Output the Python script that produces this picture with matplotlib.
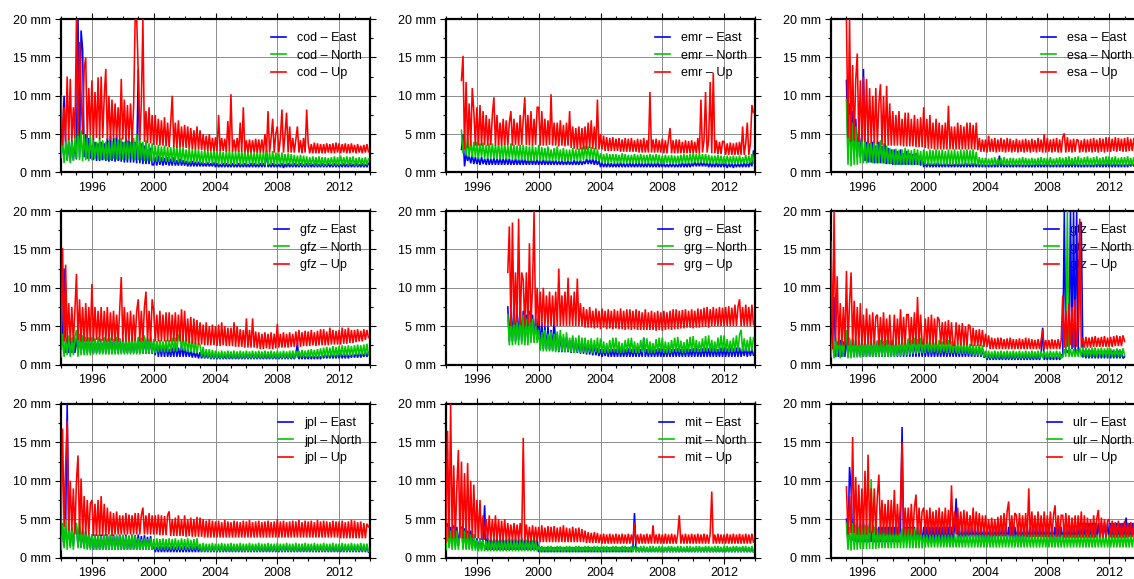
import numpy as np
import matplotlib
matplotlib.use('Agg')
import matplotlib.pyplot as plt
from matplotlib.lines import Line2D
from matplotlib.ticker import MultipleLocator, FuncFormatter

plt.rcParams['font.family'] = ['Liberation Sans', 'DejaVu Sans']

CENTERS = ['cod', 'emr', 'esa', 'gfz', 'grg', 'gtz', 'jpl', 'mit', 'ulr']
COMPONENTS = ['East', 'North', 'Up']
COLORS = ['#0000ff', '#00c800', '#ff0000']
STEP = 0.1  # sampling step in years (one row below = one year)
START = {'cod': 1994.0, 'emr': 1995.0, 'esa': 1995.0, 'gfz': 1994.0, 'grg': 1998.0,
         'gtz': 1994.0, 'jpl': 1994.0, 'mit': 1994.0, 'ulr': 1995.0}
X_TICKS = [1996, 2000, 2004, 2008, 2012]

# ---------------- cod ----------------
cod_east = [
    1.8, 4.0, 10.0, 3.8, 1.6, 4.0, 1.5, 4.2, 1.6, 3.8,
    1.7, 20.0, 2.0, 18.5, 16.0, 2.0, 5.0, 1.8, 4.5, 1.8,
    3.5, 1.6, 4.0, 1.5, 3.8, 1.5, 4.0, 1.6, 3.8, 1.5,
    4.5, 1.4, 4.8, 1.5, 4.5, 1.4, 4.8, 1.5, 4.2, 1.4,
    4.0, 1.3, 4.5, 1.3, 4.2, 1.3, 4.5, 1.3, 4.0, 1.2,
    13.5, 1.2, 3.8, 1.1, 3.5, 1.1, 3.0, 1.1, 3.2, 1.0,
    1.0, 2.0, 0.9, 2.2, 1.0, 2.0, 0.9, 1.9, 1.0, 2.0,
    0.9, 1.8, 0.9, 2.0, 0.9, 1.6, 0.9, 1.8, 0.9, 1.6,
    0.9, 1.5, 0.8, 1.4, 0.8, 1.5, 0.8, 1.4, 0.8, 1.4,
    0.8, 1.3, 0.8, 1.2, 0.8, 1.3, 0.8, 1.2, 0.8, 1.3,
    0.7, 1.2, 0.7, 1.1, 0.7, 1.2, 0.7, 1.2, 0.7, 1.1,
    0.7, 1.2, 0.7, 1.1, 0.7, 1.2, 0.7, 1.1, 0.7, 1.2,
    0.7, 1.1, 0.7, 1.2, 0.7, 1.2, 0.7, 1.1, 0.7, 1.2,
    0.7, 1.2, 0.7, 2.8, 0.7, 1.1, 0.7, 1.2, 0.7, 1.1,
    0.7, 1.1, 0.7, 1.2, 0.6, 1.1, 0.7, 1.2, 0.7, 1.1,
    0.7, 1.2, 0.7, 1.1, 0.7, 1.2, 0.7, 1.1, 0.7, 1.2,
    0.7, 1.2, 0.7, 1.1, 0.7, 1.2, 0.7, 1.1, 0.7, 1.2,
    0.7, 1.1, 0.7, 1.2, 0.7, 1.1, 0.7, 1.2, 0.7, 1.1,
    0.7, 1.1, 0.7, 1.2, 0.7, 1.1, 0.7, 1.2, 0.7, 1.1,
    0.7, 1.2, 0.7, 1.1, 0.7, 1.2, 0.7, 1.1, 0.7, 1.2,
]
cod_north = [
    2.0, 4.5, 1.2, 4.0, 1.5, 4.8, 1.2, 4.2, 1.5, 4.5,
    1.8, 6.5, 1.6, 5.5, 1.5, 5.0, 1.6, 4.5, 1.5, 4.8,
    1.6, 4.3, 1.8, 4.0, 1.7, 4.5, 1.6, 4.2, 1.7, 4.0,
    1.6, 4.2, 1.6, 4.0, 1.8, 4.5, 1.7, 4.3, 1.6, 4.5,
    1.7, 4.0, 1.6, 4.2, 1.8, 4.0, 1.7, 4.5, 1.6, 5.0,
    1.6, 4.5, 1.6, 4.0, 1.5, 4.2, 1.5, 3.8, 1.5, 3.8,
    1.5, 3.5, 1.4, 3.6, 1.4, 3.4, 1.5, 3.5, 1.4, 3.3,
    1.4, 3.3, 1.4, 3.5, 1.3, 3.4, 1.3, 3.2, 1.3, 3.3,
    1.3, 3.0, 1.2, 3.2, 1.2, 3.0, 1.3, 3.1, 1.2, 3.0,
    1.2, 2.8, 1.1, 3.0, 1.2, 2.9, 1.2, 2.8, 1.1, 3.0,
    1.1, 2.8, 1.0, 2.9, 1.1, 2.7, 1.0, 2.8, 1.1, 2.9,
    1.0, 2.8, 1.0, 2.7, 1.1, 2.9, 1.0, 2.8, 1.0, 2.7,
    1.0, 2.7, 1.1, 2.8, 1.0, 2.6, 1.0, 2.8, 1.0, 2.7,
    1.0, 2.7, 1.0, 3.0, 1.0, 2.6, 1.0, 2.8, 1.0, 2.6,
    1.0, 2.5, 1.0, 2.6, 1.0, 2.4, 1.0, 2.5, 1.0, 2.4,
    0.9, 2.3, 1.0, 2.2, 0.9, 2.3, 0.9, 2.2, 0.9, 2.1,
    0.9, 2.0, 1.0, 2.1, 0.9, 2.0, 0.9, 2.1, 0.9, 2.0,
    0.9, 2.0, 0.9, 1.9, 1.0, 2.0, 0.9, 2.1, 0.9, 2.0,
    0.9, 2.2, 1.0, 2.0, 1.0, 2.1, 0.9, 2.0, 1.0, 2.1,
    0.9, 1.9, 0.9, 2.0, 1.0, 1.9, 0.9, 2.0, 1.0, 1.8,
]
cod_up = [
    10.0, 3.5, 8.5, 4.0, 12.5, 4.2, 12.2, 4.0, 8.5, 4.5,
    20.0, 4.8, 17.0, 10.0, 5.0, 13.5, 15.0, 4.5, 11.0, 4.8,
    12.0, 4.2, 10.5, 4.5, 12.4, 4.3, 12.5, 4.5, 10.0, 13.5,
    4.2, 10.0, 4.2, 9.5, 4.4, 9.0, 4.5, 8.5, 4.2, 12.2,
    4.3, 9.5, 4.0, 8.8, 4.2, 9.0, 4.0, 8.5, 20.0, 20.0,
    13.0, 4.2, 9.0, 20.0, 4.0, 8.0, 3.8, 8.5, 3.8, 7.5,
    3.6, 7.5, 3.6, 7.0, 3.5, 6.8, 3.5, 7.2, 3.4, 6.5,
    3.3, 6.5, 10.0, 3.3, 6.5, 3.2, 6.8, 3.2, 6.0, 3.3,
    6.2, 3.2, 6.0, 3.1, 5.8, 3.0, 5.5, 3.0, 6.0, 3.0,
    5.5, 2.9, 5.0, 2.9, 4.8, 2.8, 5.0, 2.8, 4.5, 2.8,
    4.6, 2.8, 7.5, 2.8, 4.5, 2.8, 4.4, 2.7, 6.7, 2.8,
    10.2, 2.7, 4.3, 2.7, 4.5, 2.7, 6.5, 2.7, 8.5, 2.6,
    4.2, 2.6, 4.3, 2.6, 4.2, 2.6, 4.4, 2.6, 4.3, 2.6,
    4.3, 2.6, 5.0, 2.7, 8.0, 2.6, 4.5, 7.0, 2.6, 5.0,
    6.0, 2.6, 4.5, 8.2, 2.6, 5.0, 7.8, 2.6, 6.0, 2.6,
    4.5, 2.6, 4.3, 6.0, 2.6, 4.2, 2.5, 4.5, 2.6, 8.2,
    3.8, 2.5, 3.7, 2.5, 3.9, 2.5, 3.8, 2.5, 3.7, 2.5,
    3.7, 2.5, 3.8, 2.6, 3.7, 2.5, 3.8, 2.5, 3.9, 2.6,
    3.8, 2.5, 3.7, 2.6, 3.8, 2.5, 3.7, 2.5, 3.8, 2.6,
    3.6, 2.5, 3.7, 2.6, 3.5, 2.5, 3.6, 2.6, 3.7, 2.7,
]

# ---------------- emr ----------------
emr_east = [
    3.0, 5.0, 0.8, 2.5, 1.5, 2.2, 1.2, 2.3, 1.1, 2.0,
    1.1, 1.9, 1.0, 2.0, 1.1, 1.8, 1.0, 1.9, 1.0, 1.8,
    1.0, 1.9, 1.0, 1.8, 1.0, 1.9, 1.0, 1.8, 1.0, 1.9,
    1.0, 1.8, 1.0, 1.7, 1.0, 1.8, 1.0, 1.7, 1.0, 1.8,
    1.0, 1.8, 1.0, 1.7, 1.0, 1.8, 1.0, 1.7, 1.0, 1.7,
    1.0, 1.6, 1.0, 1.7, 1.0, 1.6, 1.0, 1.6, 1.0, 1.6,
    1.0, 1.6, 1.0, 1.5, 1.0, 1.6, 1.0, 1.5, 1.0, 1.6,
    1.0, 1.5, 1.0, 1.6, 1.0, 1.5, 1.0, 1.6, 1.0, 1.5,
    1.1, 1.8, 1.1, 1.7, 1.1, 1.8, 1.0, 1.7, 1.0, 1.6,
    0.7, 1.3, 0.7, 1.2, 0.7, 1.3, 0.7, 1.2, 0.7, 1.2,
    0.7, 1.2, 0.7, 1.3, 0.7, 1.2, 0.7, 1.2, 0.7, 1.3,
    0.7, 1.2, 0.7, 1.2, 0.7, 1.3, 0.7, 1.2, 0.7, 1.2,
    0.7, 1.3, 0.7, 1.2, 0.7, 1.2, 0.7, 1.3, 0.7, 1.2,
    0.7, 1.2, 0.7, 1.1, 0.7, 1.2, 0.7, 1.2, 0.7, 1.1,
    0.7, 1.2, 0.7, 1.3, 0.7, 1.2, 0.7, 1.3, 0.7, 1.2,
    0.8, 1.4, 0.8, 1.3, 0.8, 1.4, 0.8, 1.3, 0.8, 1.3,
    0.7, 1.3, 0.7, 1.2, 0.7, 1.3, 0.7, 1.2, 0.7, 1.3,
    0.7, 1.2, 0.6, 1.2, 0.7, 1.2, 0.6, 1.2, 0.7, 1.2,
    0.7, 1.2, 0.7, 1.3, 0.7, 1.3, 0.7, 1.4, 0.8, 2.8,
]
emr_north = [
    5.5, 2.5, 4.8, 2.2, 4.5, 2.0, 4.2, 2.0, 4.0, 2.0,
    4.0, 1.8, 3.8, 2.0, 3.9, 1.8, 3.6, 1.8, 3.8, 1.8,
    3.8, 1.8, 3.6, 1.8, 3.9, 1.7, 3.6, 1.8, 3.8, 1.7,
    3.5, 1.8, 3.8, 1.7, 3.6, 1.7, 3.5, 1.6, 3.6, 1.6,
    3.6, 1.6, 3.5, 1.5, 3.4, 1.5, 3.6, 1.5, 3.3, 1.6,
    3.6, 1.5, 3.3, 1.6, 3.2, 1.5, 3.4, 1.5, 3.0, 1.5,
    3.2, 1.5, 3.4, 1.5, 3.0, 1.5, 3.2, 1.4, 3.0, 1.5,
    3.0, 1.4, 3.2, 1.6, 3.0, 1.5, 3.1, 1.5, 3.3, 1.6,
    3.5, 1.8, 3.4, 1.7, 3.3, 1.7, 3.2, 1.6, 3.0, 1.5,
    2.5, 1.3, 2.4, 1.2, 2.5, 1.2, 2.4, 1.3, 2.4, 1.2,
    2.4, 1.2, 2.3, 1.2, 2.5, 1.2, 2.4, 1.2, 2.3, 1.2,
    2.3, 1.2, 2.4, 1.2, 2.3, 1.2, 2.4, 1.2, 2.3, 1.2,
    2.3, 1.2, 2.4, 1.2, 2.3, 1.2, 2.4, 1.2, 2.3, 1.1,
    2.2, 1.1, 2.3, 1.2, 2.2, 1.1, 2.3, 1.1, 2.2, 1.1,
    2.2, 1.1, 2.3, 1.2, 2.4, 1.2, 2.3, 1.2, 2.4, 1.2,
    2.5, 1.3, 2.4, 1.2, 2.5, 1.3, 2.4, 1.2, 2.4, 1.2,
    2.3, 1.2, 2.2, 1.1, 2.2, 1.2, 2.3, 1.1, 2.2, 1.1,
    2.1, 1.1, 2.2, 1.1, 2.1, 1.1, 2.2, 1.1, 2.1, 1.1,
    2.2, 1.1, 2.0, 1.2, 2.3, 1.1, 2.2, 1.2, 2.4, 1.2,
]
emr_up = [
    12.0, 15.2, 3.0, 11.8, 3.2, 9.0, 3.5, 11.0, 8.0, 3.5,
    8.5, 3.5, 8.8, 3.5, 8.0, 3.6, 7.5, 3.5, 7.0, 3.6,
    7.5, 9.8, 3.5, 7.5, 3.6, 6.5, 3.5, 7.0, 3.6, 6.8,
    3.5, 6.5, 8.0, 3.5, 7.0, 3.6, 6.5, 3.5, 7.5, 3.6,
    7.0, 9.8, 3.6, 7.5, 3.5, 8.0, 3.5, 7.0, 3.6, 8.5,
    8.5, 3.5, 8.0, 3.5, 7.0, 3.5, 6.8, 3.6, 10.2, 3.5,
    6.5, 3.5, 6.5, 3.4, 6.8, 3.5, 6.2, 3.4, 6.5, 3.5,
    8.0, 3.2, 6.0, 3.1, 5.8, 3.0, 6.0, 3.0, 5.8, 3.0,
    6.0, 3.0, 6.5, 3.2, 6.8, 3.1, 6.0, 3.0, 9.5, 3.0,
    5.0, 3.0, 4.8, 2.8, 4.6, 2.8, 4.5, 2.8, 4.6, 2.8,
    4.4, 2.8, 4.5, 2.7, 4.3, 2.7, 4.5, 2.7, 4.4, 2.7,
    4.5, 2.7, 4.2, 2.7, 4.4, 2.6, 4.3, 2.6, 4.5, 2.6,
    4.2, 2.6, 10.5, 2.6, 4.3, 2.6, 4.4, 2.6, 4.2, 2.6,
    4.4, 2.5, 4.2, 2.5, 4.3, 5.8, 2.5, 4.2, 2.5, 4.3,
    2.5, 4.3, 2.5, 4.0, 2.5, 4.2, 2.5, 4.1, 2.5, 4.2,
    2.5, 4.0, 2.5, 4.5, 2.5, 9.5, 2.6, 4.2, 10.5, 2.6,
    4.2, 11.8, 2.5, 13.0, 2.5, 4.2, 2.4, 4.0, 2.4, 4.1,
    4.0, 2.3, 3.8, 2.3, 3.9, 2.3, 3.8, 2.3, 3.9, 2.3,
    4.0, 2.3, 6.0, 2.3, 3.8, 6.5, 2.3, 3.8, 8.8, 7.8,
]

# ---------------- esa ----------------
esa_east = [
    12.0, 3.0, 9.0, 3.0, 8.0, 2.5, 7.0, 2.0, 6.0, 2.0,
    5.0, 13.5, 1.5, 4.0, 1.3, 3.8, 1.3, 4.0, 1.2, 3.5,
    1.2, 4.0, 1.2, 3.5, 1.2, 3.8, 1.1, 3.2, 1.1, 3.0,
    1.0, 3.0, 1.0, 2.8, 1.0, 3.0, 1.0, 2.5, 1.0, 2.8,
    1.0, 2.5, 1.0, 2.4, 1.0, 2.5, 1.0, 2.2, 0.9, 2.0,
    0.7, 1.2, 0.7, 1.3, 0.7, 1.2, 0.7, 1.2, 0.7, 1.3,
    0.7, 1.2, 0.7, 1.2, 0.7, 1.3, 0.7, 1.2, 0.7, 1.2,
    0.7, 1.3, 0.7, 1.2, 0.7, 1.2, 0.7, 1.3, 0.7, 1.2,
    0.7, 1.2, 0.7, 1.3, 0.7, 1.2, 0.7, 1.2, 0.7, 1.2,
    0.7, 1.2, 0.7, 1.1, 0.7, 1.2, 0.7, 1.1, 0.7, 2.2,
    0.7, 1.2, 0.7, 1.1, 0.7, 1.2, 0.7, 1.1, 0.7, 1.2,
    0.7, 1.2, 0.7, 1.2, 0.7, 1.1, 0.7, 1.2, 0.7, 1.1,
    0.7, 1.1, 0.7, 1.2, 0.7, 1.2, 0.7, 1.1, 0.7, 1.2,
    0.7, 1.2, 0.7, 1.1, 0.7, 1.2, 0.7, 1.2, 0.7, 1.1,
    0.7, 1.3, 0.7, 1.2, 0.7, 1.2, 0.7, 1.3, 0.7, 1.2,
    0.7, 1.2, 0.7, 1.1, 0.7, 1.2, 0.7, 1.2, 0.7, 1.1,
    0.7, 1.2, 0.7, 1.3, 0.7, 1.2, 0.7, 1.2, 0.7, 1.3,
    0.7, 1.2, 0.7, 1.2, 0.7, 1.3, 0.7, 1.2, 0.7, 1.2,
    0.7, 1.2, 0.7, 1.2, 0.8, 1.3, 0.8, 1.2, 0.8, 1.2,
]
esa_north = [
    9.5, 1.0, 7.5, 0.8, 6.5, 1.0, 6.0, 1.0, 5.5, 1.2,
    4.5, 1.2, 4.3, 1.2, 4.5, 1.3, 4.0, 1.2, 4.2, 1.2,
    4.0, 1.2, 4.2, 1.2, 3.8, 1.1, 3.5, 1.1, 3.2, 1.1,
    3.0, 1.0, 3.1, 1.0, 2.9, 1.0, 3.0, 1.0, 3.2, 1.0,
    3.0, 1.0, 2.9, 1.0, 3.1, 1.0, 3.0, 1.0, 2.8, 1.0,
    3.0, 1.0, 2.8, 1.0, 3.0, 1.0, 2.9, 1.0, 3.0, 1.0,
    2.9, 1.0, 3.0, 1.0, 2.8, 1.0, 3.0, 1.0, 2.9, 1.0,
    3.0, 1.0, 2.8, 1.0, 3.0, 1.0, 2.9, 1.0, 3.0, 1.0,
    2.9, 1.0, 3.0, 1.0, 2.7, 0.9, 2.0, 0.9, 1.9, 0.9,
    1.9, 0.9, 1.8, 0.9, 1.9, 0.9, 2.0, 0.9, 1.8, 0.9,
    1.9, 0.9, 2.0, 0.9, 1.8, 0.9, 1.9, 0.9, 1.9, 0.9,
    1.8, 0.9, 1.9, 0.9, 2.0, 0.9, 1.9, 0.9, 1.8, 0.9,
    1.9, 0.9, 1.8, 0.9, 1.9, 0.9, 2.0, 0.9, 1.9, 0.9,
    1.9, 0.9, 2.0, 0.9, 1.8, 0.9, 1.9, 0.9, 2.0, 0.9,
    1.9, 0.9, 2.0, 0.9, 2.1, 0.9, 1.9, 0.9, 2.0, 0.9,
    2.1, 0.9, 1.9, 0.9, 2.0, 0.9, 2.1, 0.9, 1.9, 0.9,
    2.0, 0.9, 2.1, 0.9, 1.9, 0.9, 2.0, 0.9, 2.1, 0.9,
    2.1, 0.9, 2.0, 0.9, 2.1, 0.9, 1.9, 0.9, 2.0, 0.9,
    2.0, 0.9, 2.1, 0.9, 1.9, 0.9, 2.0, 0.9, 2.1, 0.9,
]
esa_up = [
    20.0, 4.5, 20.0, 4.0, 14.0, 4.2, 12.0, 15.5, 4.0, 12.0,
    4.0, 12.5, 4.0, 12.2, 3.8, 11.0, 3.8, 10.0, 3.8, 11.0,
    3.7, 9.0, 11.5, 3.6, 10.0, 3.5, 11.3, 3.5, 9.0, 3.5,
    8.0, 3.5, 7.5, 3.5, 8.0, 3.5, 7.0, 3.4, 7.8, 3.4,
    7.8, 3.4, 7.0, 3.4, 7.5, 3.3, 7.0, 3.3, 7.2, 3.3,
    8.5, 3.2, 7.0, 3.1, 7.5, 3.1, 6.5, 3.0, 7.0, 3.0,
    6.5, 3.0, 6.2, 3.0, 6.5, 3.0, 8.7, 3.0, 6.0, 3.0,
    6.0, 3.0, 6.5, 3.0, 6.2, 3.0, 6.0, 3.0, 6.5, 3.0,
    6.5, 3.0, 6.2, 3.0, 6.5, 2.9, 4.5, 2.7, 4.3, 2.7,
    4.3, 2.6, 4.8, 2.7, 4.4, 2.7, 4.5, 2.6, 4.3, 2.7,
    4.5, 2.7, 4.3, 2.6, 4.5, 2.7, 4.4, 2.6, 4.2, 2.7,
    4.4, 2.6, 4.2, 2.7, 4.3, 2.6, 4.4, 2.7, 4.2, 2.6,
    4.4, 2.7, 4.2, 2.6, 4.5, 2.7, 4.3, 2.6, 5.0, 2.6,
    4.5, 2.7, 4.3, 2.6, 4.4, 2.7, 4.5, 2.6, 4.3, 2.6,
    4.6, 5.1, 2.6, 4.6, 2.7, 4.3, 2.6, 4.4, 2.7, 4.3,
    4.2, 2.6, 4.2, 2.7, 4.4, 2.6, 4.3, 2.7, 4.4, 2.6,
    4.5, 2.7, 4.3, 2.6, 4.5, 2.7, 4.4, 2.6, 4.6, 2.7,
    4.6, 2.7, 4.4, 2.8, 4.6, 2.7, 4.5, 2.8, 4.4, 2.7,
    4.5, 2.7, 4.6, 2.8, 4.4, 2.8, 4.5, 2.8, 4.6, 2.8,
]

# ---------------- gfz ----------------
gfz_east = [
    2.5, 3.0, 12.5, 1.5, 3.5, 1.5, 3.4, 1.5, 3.5, 1.5,
    3.5, 1.5, 3.8, 1.5, 3.6, 1.5, 3.4, 1.5, 3.5, 1.5,
    3.5, 1.5, 3.3, 1.5, 3.4, 1.5, 3.3, 1.5, 3.5, 1.5,
    3.3, 1.5, 3.4, 1.5, 3.3, 1.5, 3.2, 1.5, 3.4, 1.5,
    3.3, 1.5, 3.2, 1.5, 3.4, 1.5, 3.3, 1.5, 3.2, 1.5,
    3.4, 1.5, 3.3, 1.4, 3.5, 1.4, 3.3, 1.4, 3.5, 1.4,
    3.0, 1.2, 3.0, 1.0, 2.5, 1.0, 2.6, 1.0, 2.5, 1.0,
    2.0, 1.0, 2.2, 1.0, 2.5, 1.0, 2.2, 1.0, 2.5, 1.0,
    2.2, 1.0, 2.0, 1.0, 1.8, 0.9, 1.8, 0.9, 1.6, 0.8,
    1.6, 0.8, 1.4, 0.8, 1.3, 0.8, 1.4, 0.7, 1.3, 0.7,
    1.3, 0.7, 1.2, 0.7, 1.3, 0.7, 1.2, 0.7, 1.3, 0.7,
    1.2, 0.7, 1.3, 0.7, 1.2, 0.7, 1.3, 0.7, 1.2, 0.7,
    1.3, 0.7, 1.2, 0.7, 1.3, 0.7, 1.2, 0.7, 1.3, 0.7,
    1.2, 0.7, 1.3, 0.7, 1.2, 0.7, 1.3, 0.7, 1.2, 0.7,
    1.3, 0.7, 1.2, 0.7, 1.3, 0.7, 1.2, 0.7, 1.3, 0.7,
    1.2, 0.7, 1.3, 2.8, 0.7, 1.2, 0.7, 1.3, 0.7, 1.2,
    0.7, 1.3, 0.7, 1.2, 0.7, 1.3, 0.7, 1.2, 0.7, 1.3,
    0.8, 1.4, 0.8, 1.3, 0.8, 1.4, 0.8, 1.3, 0.8, 1.4,
    0.8, 1.5, 0.8, 1.4, 0.8, 1.5, 0.8, 1.4, 0.9, 1.5,
    0.9, 1.5, 0.9, 1.6, 0.9, 1.5, 1.0, 1.6, 1.0, 1.6,
]
gfz_north = [
    1.0, 4.0, 1.0, 3.5, 1.2, 3.8, 1.0, 3.5, 1.2, 3.6,
    4.5, 1.0, 4.0, 1.2, 3.8, 1.2, 3.6, 1.2, 3.5, 1.2,
    3.5, 1.3, 3.4, 1.3, 3.6, 1.3, 3.3, 1.3, 3.5, 1.3,
    3.4, 1.3, 3.5, 1.3, 3.3, 1.3, 3.6, 1.3, 3.4, 1.3,
    3.5, 1.3, 3.3, 1.3, 3.5, 1.3, 3.8, 1.3, 3.5, 1.3,
    3.6, 1.3, 3.5, 1.4, 3.8, 1.4, 3.5, 1.4, 3.8, 1.5,
    3.3, 1.5, 3.0, 1.6, 3.2, 1.6, 3.0, 1.6, 3.2, 1.6,
    3.2, 1.6, 3.5, 1.7, 3.5, 1.7, 3.8, 4.0, 1.8, 3.6,
    1.8, 3.6, 1.6, 3.3, 1.6, 3.3, 1.5, 3.0, 1.5, 2.8,
    2.5, 1.0, 2.3, 0.9, 2.0, 0.9, 2.0, 0.8, 1.9, 0.8,
    1.8, 0.8, 1.7, 0.8, 1.8, 0.8, 1.7, 0.8, 1.8, 0.8,
    1.7, 0.8, 1.8, 0.8, 1.7, 0.8, 1.8, 0.8, 1.7, 0.8,
    1.8, 0.8, 1.7, 0.8, 1.8, 0.8, 1.7, 0.8, 1.8, 0.8,
    1.7, 0.8, 1.8, 0.8, 1.7, 0.8, 1.8, 0.8, 1.7, 0.8,
    1.8, 0.8, 1.7, 0.8, 1.8, 0.8, 1.7, 0.8, 1.8, 0.8,
    1.8, 0.8, 1.8, 0.9, 1.8, 0.9, 1.9, 0.9, 1.8, 0.9,
    1.9, 0.9, 2.0, 0.9, 1.9, 0.9, 2.0, 0.9, 2.1, 0.9,
    2.2, 1.0, 2.3, 1.0, 2.2, 1.0, 2.4, 1.0, 2.3, 1.0,
    2.4, 1.1, 2.5, 1.1, 2.4, 1.1, 2.5, 1.1, 2.4, 1.1,
    2.5, 1.2, 2.6, 1.2, 2.5, 1.2, 2.6, 1.2, 2.7, 1.2,
]
gfz_up = [
    2.0, 15.2, 3.0, 13.0, 3.0, 8.0, 3.0, 7.5, 3.0, 7.0,
    11.8, 3.2, 8.5, 3.0, 7.5, 3.0, 8.0, 3.0, 7.5, 3.0,
    10.5, 3.0, 7.5, 3.2, 7.0, 3.0, 7.5, 3.1, 7.0, 3.0,
    7.5, 3.0, 6.8, 3.1, 7.0, 3.0, 6.5, 3.0, 7.2, 11.4,
    3.0, 7.5, 3.0, 6.8, 3.0, 7.0, 3.0, 6.5, 3.1, 7.0,
    8.5, 3.0, 7.0, 3.0, 7.5, 9.5, 3.0, 7.0, 3.0, 8.5,
    7.0, 3.0, 6.5, 3.0, 7.0, 3.0, 6.5, 3.0, 6.8, 3.0,
    6.8, 3.0, 6.5, 3.0, 6.8, 3.0, 6.5, 3.0, 7.2, 3.0,
    7.0, 3.0, 6.0, 2.8, 6.2, 2.7, 6.0, 2.6, 5.8, 2.6,
    5.5, 2.6, 5.2, 2.5, 5.5, 2.5, 5.0, 2.5, 5.2, 2.5,
    5.0, 2.4, 5.2, 2.4, 5.5, 2.5, 5.0, 2.4, 4.8, 2.4,
    4.8, 2.4, 5.5, 2.3, 5.0, 2.3, 4.6, 2.3, 4.5, 2.2,
    6.0, 2.2, 4.5, 2.2, 6.0, 2.2, 4.3, 2.1, 4.2, 2.0,
    4.0, 2.0, 4.2, 2.1, 4.0, 2.0, 4.2, 2.0, 4.0, 2.1,
    5.3, 2.2, 4.0, 2.2, 4.2, 2.2, 4.0, 2.2, 4.2, 2.3,
    4.0, 2.3, 4.3, 2.4, 4.5, 2.3, 4.2, 2.4, 4.4, 2.4,
    4.3, 2.4, 4.5, 2.5, 4.2, 2.4, 4.4, 2.5, 4.6, 2.5,
    4.6, 2.5, 4.3, 2.5, 4.8, 2.6, 4.5, 2.6, 4.4, 2.6,
    4.5, 2.6, 4.8, 2.7, 4.6, 2.7, 4.8, 2.8, 4.5, 2.8,
    4.5, 2.9, 4.6, 3.0, 4.4, 3.0, 4.6, 3.2, 4.5, 3.5,
]

# ---------------- grg ----------------
grg_east = [
    7.5, 3.0, 7.0, 3.0, 8.0, 3.0, 7.0, 3.2, 7.5, 3.0,
    7.0, 3.0, 6.5, 3.0, 7.0, 3.2, 6.5, 3.5, 6.0, 3.5,
    7.0, 2.0, 5.5, 2.0, 5.0, 2.0, 5.0, 1.9, 4.5, 1.8,
    6.2, 1.8, 4.0, 1.6, 3.8, 1.6, 3.5, 1.6, 3.5, 1.6,
    3.2, 1.5, 3.5, 1.5, 3.2, 1.5, 3.0, 1.4, 3.0, 1.4,
    3.0, 1.3, 2.8, 1.3, 2.5, 1.2, 2.5, 1.2, 2.2, 1.1,
    2.0, 1.0, 2.0, 1.1, 2.1, 1.0, 2.0, 1.0, 2.0, 1.0,
    2.0, 1.0, 2.1, 1.0, 2.0, 1.0, 2.0, 1.0, 2.1, 1.0,
    2.0, 1.0, 2.0, 1.0, 2.1, 1.0, 2.0, 1.0, 3.5, 1.0,
    2.0, 1.0, 2.1, 1.0, 2.0, 1.0, 2.0, 1.0, 2.1, 1.0,
    2.0, 1.0, 2.0, 1.0, 2.1, 1.0, 2.0, 1.0, 2.0, 1.0,
    2.1, 1.0, 2.0, 1.0, 2.0, 1.0, 2.1, 1.0, 2.0, 1.0,
    2.1, 1.0, 2.2, 1.0, 2.0, 1.0, 2.1, 1.0, 2.2, 1.0,
    2.1, 1.0, 2.2, 1.0, 2.1, 1.0, 2.0, 1.0, 2.2, 1.0,
    2.2, 1.0, 2.1, 1.0, 2.2, 1.0, 2.1, 1.0, 2.2, 1.0,
    2.2, 1.0, 2.1, 1.1, 2.2, 1.0, 2.1, 1.1, 2.0, 1.2,
]
grg_north = [
    6.5, 2.5, 6.0, 2.5, 6.5, 2.6, 6.0, 2.5, 6.5, 2.6,
    6.5, 2.5, 6.0, 2.5, 6.5, 2.8, 6.0, 2.8, 5.5, 2.8,
    4.5, 1.8, 4.2, 1.7, 4.5, 1.7, 4.0, 1.7, 4.3, 1.7,
    4.0, 1.6, 4.3, 1.7, 4.5, 1.7, 4.0, 1.6, 4.2, 1.7,
    3.5, 1.6, 3.8, 1.5, 3.5, 1.6, 3.8, 1.5, 3.5, 1.6,
    3.5, 1.5, 3.2, 1.6, 3.4, 1.5, 3.2, 1.6, 3.5, 1.5,
    3.4, 1.5, 3.0, 1.5, 2.8, 1.5, 3.2, 1.6, 3.5, 1.6,
    3.5, 1.5, 3.0, 1.5, 2.8, 1.5, 3.2, 1.6, 3.4, 1.6,
    3.5, 1.5, 3.0, 1.5, 2.8, 1.5, 3.2, 1.6, 3.5, 1.6,
    3.4, 1.5, 3.0, 1.5, 2.8, 1.5, 3.3, 1.6, 3.5, 1.6,
    3.5, 1.5, 3.0, 1.5, 2.9, 1.5, 3.2, 1.6, 3.5, 1.6,
    3.6, 1.6, 3.1, 1.5, 2.9, 1.5, 3.3, 1.6, 3.6, 1.7,
    3.7, 1.6, 3.2, 1.6, 3.0, 1.6, 3.4, 1.7, 3.7, 1.7,
    3.8, 1.7, 3.2, 1.6, 3.0, 1.6, 3.5, 1.7, 3.8, 1.7,
    3.8, 1.7, 3.3, 1.6, 3.1, 1.6, 3.5, 1.7, 3.8, 1.7,
    3.9, 4.5, 1.7, 3.4, 1.7, 3.2, 1.7, 3.6, 1.8, 3.5,
]
grg_up = [
    12.0, 18.0, 5.0, 18.5, 5.2, 12.0, 5.5, 19.0, 5.2, 12.0,
    11.0, 5.0, 12.0, 5.0, 15.8, 5.5, 10.0, 20.0, 5.0, 10.0,
    5.0, 9.5, 5.0, 10.0, 5.0, 9.0, 5.0, 9.5, 5.0, 9.0,
    5.0, 9.5, 5.0, 12.5, 5.0, 9.0, 5.0, 9.5, 5.0, 11.3,
    5.0, 9.0, 5.0, 9.5, 5.0, 11.2, 5.0, 8.0, 5.0, 7.5,
    4.8, 7.2, 4.8, 7.5, 4.8, 7.0, 4.7, 7.3, 4.8, 7.0,
    4.6, 7.3, 4.8, 7.0, 4.6, 7.2, 4.7, 7.0, 4.6, 7.2,
    4.7, 7.0, 4.6, 7.3, 4.6, 7.0, 4.5, 7.2, 4.6, 7.2,
    4.5, 7.0, 4.6, 7.2, 4.5, 7.0, 4.5, 6.8, 4.5, 7.2,
    4.5, 6.8, 4.5, 7.0, 4.5, 6.8, 4.4, 7.0, 4.5, 6.8,
    4.4, 7.0, 4.5, 6.8, 4.6, 7.0, 4.5, 7.2, 4.6, 7.2,
    4.6, 7.0, 4.7, 7.1, 4.7, 7.2, 4.8, 7.0, 4.8, 7.2,
    4.7, 7.0, 4.8, 7.3, 4.8, 7.2, 4.9, 7.4, 4.9, 7.5,
    4.8, 7.2, 5.0, 7.5, 5.0, 7.3, 5.0, 7.5, 5.0, 7.4,
    5.0, 7.5, 5.0, 7.6, 5.0, 7.4, 5.0, 7.8, 5.0, 7.5,
    8.5, 5.0, 7.5, 5.0, 7.8, 5.0, 7.5, 5.0, 7.8, 5.2,
]

# ---------------- gtz ----------------
gtz_east = [
    2.0, 3.0, 8.8, 1.0, 3.0, 1.0, 3.2, 1.0, 3.0, 1.0,
    3.5, 1.0, 3.2, 1.0, 3.3, 1.0, 3.2, 1.0, 3.1, 1.0,
    3.2, 1.0, 3.1, 1.0, 3.2, 1.0, 3.0, 1.0, 3.2, 1.0,
    3.1, 1.0, 3.2, 1.0, 3.0, 1.0, 3.2, 1.0, 3.1, 1.0,
    3.2, 1.0, 3.0, 1.0, 3.1, 1.0, 3.2, 1.0, 3.0, 1.0,
    3.2, 1.0, 3.1, 1.0, 3.0, 1.0, 3.2, 1.0, 3.0, 1.0,
    2.5, 1.0, 2.4, 1.0, 2.5, 1.0, 2.3, 1.0, 2.4, 1.0,
    2.3, 1.0, 2.4, 1.0, 2.3, 1.0, 2.4, 1.0, 2.3, 1.0,
    2.3, 1.0, 2.2, 1.0, 2.3, 1.0, 2.2, 1.0, 2.3, 1.0,
    2.3, 1.0, 2.2, 1.0, 2.1, 1.0, 2.2, 1.0, 2.0, 0.9,
    1.3, 0.6, 1.2, 0.6, 1.3, 0.6, 1.2, 0.6, 1.3, 0.6,
    1.2, 0.6, 1.3, 0.6, 1.2, 0.6, 1.3, 0.6, 1.2, 0.6,
    1.3, 0.6, 1.2, 0.6, 1.3, 0.6, 1.2, 0.6, 1.3, 0.6,
    1.2, 0.6, 1.3, 0.6, 1.2, 0.6, 1.3, 4.8, 0.6, 1.2,
    0.6, 1.3, 0.6, 1.2, 0.6, 1.3, 0.6, 1.2, 0.6, 1.3,
    1.0, 20.0, 2.0, 1.5, 2.0, 20.0, 2.0, 20.0, 1.5, 20.0,
    1.5, 18.5, 18.5, 0.9, 1.8, 0.8, 1.8, 0.8, 1.8, 0.8,
    1.8, 0.8, 1.7, 0.8, 1.8, 0.8, 1.7, 0.8, 1.8, 0.8,
    1.7, 0.8, 1.8, 0.8, 1.7, 0.8, 1.8, 0.8, 1.7, 0.8,
    1.0,
]
gtz_north = [
    1.0, 4.0, 0.8, 3.5, 1.0, 3.8, 0.8, 3.5, 1.0, 3.3,
    4.5, 0.8, 3.5, 0.8, 3.4, 0.9, 3.3, 0.9, 3.2, 0.9,
    3.2, 1.0, 3.1, 1.0, 3.2, 1.0, 3.0, 1.0, 3.2, 1.0,
    3.1, 1.0, 3.2, 1.0, 3.0, 1.0, 3.2, 1.0, 3.1, 1.0,
    3.2, 1.0, 3.0, 1.1, 3.3, 1.1, 3.2, 1.2, 3.3, 1.2,
    3.4, 1.3, 3.2, 1.4, 3.5, 1.4, 3.3, 1.5, 3.5, 1.5,
    3.3, 1.5, 3.5, 1.6, 3.3, 1.5, 3.4, 1.6, 3.3, 1.5,
    3.2, 1.5, 3.0, 1.6, 3.3, 1.5, 3.2, 1.5, 3.0, 1.5,
    3.0, 1.5, 2.8, 1.4, 3.0, 1.4, 2.8, 1.4, 2.9, 1.4,
    2.7, 1.3, 2.6, 1.2, 2.5, 1.2, 2.6, 1.2, 2.5, 1.0,
    1.8, 0.8, 1.8, 0.8, 1.7, 0.8, 1.8, 0.8, 1.7, 0.8,
    1.8, 0.8, 1.7, 0.8, 1.8, 0.8, 1.7, 0.8, 1.8, 0.8,
    1.7, 0.8, 1.8, 0.8, 1.7, 0.8, 1.8, 0.8, 1.7, 0.8,
    1.8, 0.8, 1.7, 0.8, 1.8, 0.8, 1.7, 0.8, 1.8, 0.8,
    1.7, 0.8, 1.8, 0.8, 1.7, 0.8, 1.8, 0.8, 1.7, 0.8,
    1.0, 2.0, 1.0, 20.0, 1.0, 2.0, 1.0, 2.0, 1.0, 2.0,
    1.0, 2.2, 1.0, 2.3, 1.0, 2.2, 1.0, 2.1, 1.0, 2.2,
    1.0, 2.2, 1.0, 2.1, 1.1, 2.2, 1.0, 2.1, 1.0, 2.2,
    1.0, 2.1, 1.0, 2.0, 1.0, 2.1, 1.0, 2.0, 1.0, 2.1,
    1.2,
]
gtz_up = [
    16.0, 2.0, 20.0, 3.0, 11.5, 2.5, 8.0, 2.5, 7.5, 2.5,
    12.2, 2.5, 8.0, 12.0, 2.5, 8.3, 2.5, 7.5, 2.5, 8.0,
    2.5, 6.5, 2.5, 7.3, 2.6, 6.5, 2.5, 6.8, 2.6, 6.2,
    6.5, 2.5, 6.2, 2.6, 6.8, 2.5, 6.0, 2.6, 6.5, 2.6,
    2.6, 6.5, 2.5, 6.0, 2.6, 7.2, 2.6, 6.2, 2.6, 6.5,
    6.5, 2.6, 6.2, 2.7, 6.8, 2.6, 8.8, 2.7, 6.5, 2.7,
    2.7, 6.0, 2.7, 6.2, 2.6, 6.5, 2.6, 6.0, 2.6, 6.2,
    5.8, 2.6, 5.5, 2.6, 5.6, 2.6, 5.8, 2.6, 5.5, 2.5,
    2.5, 5.5, 2.6, 5.2, 2.5, 5.4, 2.5, 5.0, 2.5, 5.2,
    5.0, 2.4, 4.8, 2.4, 4.5, 2.4, 4.6, 2.4, 4.5, 2.3,
    4.0, 2.3, 3.8, 2.0, 3.5, 2.0, 3.4, 2.0, 3.5, 2.0,
    3.5, 2.0, 3.3, 2.0, 3.4, 2.0, 3.5, 2.0, 3.3, 2.0,
    3.3, 2.0, 3.4, 2.0, 3.3, 2.0, 3.5, 2.0, 3.4, 2.0,
    3.3, 2.0, 3.2, 2.0, 3.3, 2.0, 3.2, 4.5, 2.0, 3.2,
    2.0, 3.2, 2.0, 3.3, 2.0, 3.2, 2.0, 3.3, 2.0, 3.2,
    9.0, 2.2, 7.0, 2.3, 8.0, 2.5, 7.5, 2.2, 8.5, 2.3,
    5.0, 19.0, 2.2, 3.5, 2.2, 3.6, 2.2, 3.5, 2.2, 3.6,
    2.3, 3.7, 2.3, 3.5, 2.3, 3.6, 2.3, 3.7, 2.3, 3.5,
    2.3, 3.6, 2.3, 3.7, 2.4, 3.8, 2.4, 3.7, 2.4, 3.8,
    3.0,
]

# ---------------- jpl ----------------
jpl_east = [
    1.5, 4.0, 1.5, 4.0, 20.0, 3.5, 1.5, 3.8, 1.5, 4.0,
    4.0, 1.5, 3.8, 1.3, 3.5, 1.3, 3.5, 1.2, 3.2, 1.2,
    3.0, 1.0, 3.0, 1.0, 2.9, 1.0, 3.0, 1.0, 2.8, 1.0,
    3.0, 1.0, 2.9, 1.0, 3.0, 1.0, 2.8, 1.0, 3.0, 1.0,
    2.9, 1.0, 3.0, 1.0, 2.8, 1.0, 3.0, 1.0, 2.9, 1.0,
    3.0, 1.0, 2.8, 1.0, 2.9, 1.0, 2.7, 1.0, 2.8, 1.0,
    1.5, 0.7, 1.4, 0.7, 1.5, 0.7, 1.4, 0.7, 1.5, 0.7,
    1.4, 0.7, 1.5, 0.7, 1.4, 0.7, 1.5, 0.7, 1.4, 0.7,
    1.5, 0.7, 1.4, 0.7, 1.5, 0.7, 1.4, 0.7, 1.5, 0.7,
    1.4, 0.7, 1.5, 0.7, 1.4, 0.7, 1.5, 0.7, 1.4, 0.7,
    1.5, 0.7, 1.4, 0.7, 1.5, 0.7, 1.4, 0.7, 1.5, 0.7,
    1.4, 0.7, 1.5, 0.7, 1.4, 0.7, 1.5, 0.7, 1.4, 0.7,
    1.5, 0.7, 1.4, 0.7, 1.5, 0.7, 1.4, 0.7, 1.5, 0.7,
    1.4, 0.7, 1.5, 0.7, 1.4, 0.7, 1.5, 0.7, 1.4, 0.7,
    1.5, 0.7, 1.4, 0.7, 1.5, 0.7, 1.4, 0.7, 1.5, 0.7,
    1.4, 0.7, 1.5, 0.7, 1.4, 0.7, 1.5, 0.7, 1.4, 0.7,
    1.5, 0.7, 1.4, 0.7, 1.5, 0.7, 1.4, 0.7, 1.5, 0.7,
    1.4, 0.7, 1.5, 0.7, 1.4, 0.7, 1.5, 0.7, 1.4, 0.7,
    1.5, 0.7, 1.4, 0.7, 1.5, 0.7, 1.4, 0.7, 1.5, 0.7,
    1.4, 0.7, 1.5, 0.7, 1.4, 0.7, 1.5, 0.7, 1.4, 0.7,
]
jpl_north = [
    1.0, 4.5, 1.2, 5.0, 1.0, 4.5, 1.2, 4.0, 1.0, 4.2,
    4.5, 1.2, 4.8, 1.2, 4.0, 1.1, 3.5, 1.0, 3.2, 1.0,
    3.0, 1.0, 2.9, 1.0, 3.0, 1.0, 2.8, 1.0, 3.0, 1.0,
    2.9, 1.0, 3.0, 1.0, 2.8, 1.0, 3.0, 1.0, 2.9, 1.0,
    3.0, 1.0, 2.8, 1.0, 2.9, 1.0, 3.0, 1.0, 2.8, 1.0,
    2.5, 1.0, 2.4, 1.0, 2.5, 1.0, 2.4, 1.0, 2.5, 1.0,
    2.4, 1.0, 2.5, 1.0, 2.4, 1.0, 2.5, 1.0, 2.4, 1.0,
    2.5, 1.0, 2.4, 1.0, 2.5, 1.0, 2.3, 1.0, 2.5, 1.0,
    2.4, 1.0, 2.5, 1.0, 2.3, 1.0, 2.4, 1.0, 2.5, 1.0,
    1.8, 0.8, 1.9, 0.8, 1.8, 0.8, 1.8, 0.8, 1.9, 0.8,
    1.8, 0.8, 1.8, 0.8, 1.9, 0.8, 1.8, 0.8, 1.8, 0.8,
    1.9, 0.8, 1.8, 0.8, 1.8, 0.8, 1.9, 0.8, 1.8, 0.8,
    1.8, 0.8, 1.9, 0.8, 1.8, 0.8, 1.8, 0.8, 1.9, 0.8,
    1.8, 0.8, 1.8, 0.8, 1.9, 0.8, 1.8, 0.8, 1.8, 0.8,
    1.9, 0.8, 1.8, 0.8, 1.8, 0.8, 1.9, 0.8, 1.8, 0.8,
    1.8, 0.8, 1.9, 0.8, 1.8, 0.8, 1.8, 0.8, 1.9, 0.8,
    1.8, 0.8, 1.8, 0.8, 1.9, 0.8, 1.8, 0.8, 1.8, 0.8,
    1.9, 0.8, 1.8, 0.8, 1.8, 0.8, 1.9, 0.8, 1.8, 0.8,
    1.8, 0.8, 1.9, 0.8, 1.8, 0.8, 1.8, 0.8, 1.9, 0.8,
    1.8, 0.8, 1.8, 0.8, 1.9, 0.8, 1.8, 0.8, 1.8, 0.8,
]
jpl_up = [
    3.0, 16.8, 4.0, 12.0, 17.8, 3.5, 10.0, 3.5, 9.0, 3.0,
    10.0, 13.3, 3.0, 10.3, 3.0, 8.0, 3.0, 7.5, 3.0, 7.0,
    7.5, 2.8, 7.0, 2.8, 7.5, 2.8, 8.0, 2.8, 7.0, 2.8,
    6.5, 3.0, 6.0, 2.8, 5.8, 3.0, 6.0, 3.0, 5.5, 3.0,
    5.5, 3.0, 5.8, 3.0, 5.6, 3.0, 5.5, 3.0, 5.8, 3.0,
    5.8, 3.0, 5.5, 6.5, 3.0, 5.5, 3.0, 5.8, 3.0, 5.5,
    3.0, 5.5, 3.0, 5.6, 2.9, 5.5, 2.9, 5.4, 2.9, 5.5,
    6.0, 2.8, 5.0, 2.8, 5.2, 2.8, 5.5, 2.8, 5.0, 2.8,
    5.5, 2.7, 5.0, 2.8, 5.2, 2.7, 5.0, 2.7, 5.3, 2.7,
    5.2, 2.7, 5.0, 2.6, 4.8, 2.6, 5.0, 2.6, 4.8, 2.6,
    4.7, 2.6, 4.8, 2.6, 4.6, 2.6, 4.9, 2.6, 4.7, 2.6,
    4.6, 2.6, 4.8, 2.6, 4.7, 2.6, 4.6, 2.6, 4.8, 2.6,
    4.7, 2.6, 4.9, 2.6, 4.6, 2.6, 4.7, 2.6, 4.8, 2.6,
    4.6, 2.6, 4.7, 2.6, 4.8, 2.6, 4.6, 2.6, 4.7, 2.6,
    5.0, 2.6, 4.7, 2.6, 4.8, 2.6, 4.6, 2.6, 4.7, 2.6,
    4.8, 2.6, 4.7, 2.6, 4.9, 2.6, 4.6, 2.6, 4.8, 2.6,
    4.7, 2.6, 4.8, 2.6, 4.6, 2.6, 4.9, 2.6, 4.7, 2.6,
    4.8, 2.6, 4.7, 2.6, 4.6, 2.6, 4.8, 2.6, 4.7, 2.6,
    4.7, 2.5, 4.8, 2.5, 4.6, 2.5, 4.7, 2.5, 4.9, 2.5,
    4.8, 2.5, 4.6, 2.5, 4.7, 2.5, 4.5, 2.5, 4.4, 4.0,
]

# ---------------- mit ----------------
mit_east = [
    1.5, 4.5, 1.5, 4.0, 1.5, 4.2, 1.5, 4.0, 1.5, 3.8,
    4.0, 1.5, 3.8, 1.3, 3.5, 1.3, 3.5, 1.2, 3.0, 1.2,
    2.5, 1.1, 2.5, 1.0, 2.5, 6.8, 1.0, 2.5, 1.0, 2.5,
    1.0, 2.4, 1.0, 2.5, 1.0, 2.4, 1.0, 2.5, 1.0, 2.4,
    1.0, 2.5, 1.0, 2.4, 1.0, 2.5, 1.0, 2.4, 1.0, 2.5,
    1.0, 2.4, 1.0, 2.5, 1.0, 2.4, 1.0, 2.5, 1.0, 2.4,
    0.7, 1.3, 0.7, 1.3, 0.7, 1.3, 0.7, 1.3, 0.7, 1.3,
    0.7, 1.3, 0.7, 1.3, 0.7, 1.3, 0.7, 1.3, 0.7, 1.3,
    0.7, 1.3, 0.7, 1.3, 0.7, 1.3, 0.7, 1.3, 0.7, 1.3,
    0.7, 1.3, 0.7, 1.3, 0.7, 1.3, 0.7, 1.3, 0.7, 1.3,
    0.7, 1.3, 0.7, 1.3, 0.7, 1.3, 0.7, 1.3, 0.7, 1.3,
    0.7, 1.3, 0.7, 1.3, 0.7, 1.3, 0.7, 1.3, 0.7, 1.3,
    0.7, 1.3, 5.8, 0.7, 1.3, 0.7, 1.3, 0.7, 1.3, 0.7,
    1.3, 0.7, 1.3, 0.7, 1.3, 0.7, 1.3, 0.7, 1.3, 0.7,
    1.3, 0.7, 1.3, 0.7, 1.3, 0.7, 1.3, 0.7, 1.3, 0.7,
    1.3, 0.7, 1.3, 0.7, 1.3, 0.7, 1.3, 0.7, 1.3, 0.7,
    1.3, 0.7, 1.3, 0.7, 1.3, 0.7, 1.3, 0.7, 1.3, 0.7,
    1.3, 0.7, 1.3, 0.7, 1.3, 0.7, 1.3, 0.7, 1.3, 0.7,
    1.3, 0.7, 1.3, 0.7, 1.3, 0.7, 1.3, 0.7, 1.3, 0.7,
    1.3, 0.7, 1.3, 0.7, 1.3, 0.7, 1.3, 0.7, 1.3, 0.7,
]
mit_north = [
    1.0, 4.0, 1.2, 3.5, 1.0, 3.8, 1.0, 3.5, 1.0, 3.2,
    3.8, 1.0, 3.5, 1.0, 3.2, 1.0, 3.0, 0.9, 3.0, 0.9,
    2.3, 0.8, 2.4, 0.8, 2.3, 0.8, 2.2, 0.8, 2.3, 0.8,
    2.2, 0.8, 2.3, 0.8, 2.2, 0.8, 2.3, 0.8, 2.2, 0.8,
    2.3, 0.8, 2.2, 0.8, 2.3, 0.8, 2.2, 0.8, 2.3, 0.8,
    2.2, 0.8, 2.3, 0.8, 2.2, 0.8, 2.3, 0.8, 2.2, 0.8,
    1.5, 0.7, 1.5, 0.7, 1.4, 0.7, 1.5, 0.7, 1.5, 0.7,
    1.4, 0.7, 1.5, 0.7, 1.5, 0.7, 1.4, 0.7, 1.5, 0.7,
    1.5, 0.7, 1.4, 0.7, 1.5, 0.7, 1.5, 0.7, 1.4, 0.7,
    1.5, 0.7, 1.5, 0.7, 1.4, 0.7, 1.5, 0.7, 1.5, 0.7,
    1.4, 0.7, 1.5, 0.7, 1.5, 0.7, 1.4, 0.7, 1.5, 0.7,
    1.5, 0.7, 1.4, 0.7, 1.5, 0.7, 1.5, 0.7, 1.4, 0.7,
    1.5, 0.7, 1.5, 0.7, 1.4, 0.7, 1.5, 0.7, 1.5, 0.7,
    1.4, 0.7, 1.5, 0.7, 1.5, 0.7, 1.4, 0.7, 1.5, 0.7,
    1.5, 0.7, 1.4, 0.7, 1.5, 0.7, 1.5, 0.7, 1.4, 0.7,
    1.5, 0.7, 1.5, 0.7, 1.4, 0.7, 1.5, 0.7, 1.5, 0.7,
    1.4, 0.7, 1.5, 0.7, 1.5, 0.7, 1.4, 0.7, 1.5, 0.7,
    1.5, 0.7, 1.4, 0.7, 1.5, 0.7, 1.5, 0.7, 1.4, 0.7,
    1.5, 0.7, 1.5, 0.7, 1.4, 0.7, 1.5, 0.7, 1.5, 0.7,
    1.4, 0.7, 1.5, 0.7, 1.5, 0.7, 1.4, 0.7, 1.5, 0.7,
]
mit_up = [
    2.0, 16.5, 2.5, 20.0, 2.5, 12.0, 2.5, 9.0, 14.0, 2.5,
    12.5, 2.5, 11.0, 2.5, 12.3, 2.5, 10.0, 2.5, 9.5, 2.5,
    7.5, 2.5, 7.5, 2.3, 5.5, 2.3, 5.0, 2.3, 5.5, 2.2,
    5.0, 2.2, 5.5, 2.2, 5.0, 2.2, 4.8, 2.2, 5.0, 2.2,
    4.5, 2.2, 4.3, 2.2, 4.5, 2.2, 4.3, 2.2, 4.5, 2.2,
    15.6, 2.2, 4.3, 2.1, 4.0, 2.1, 4.2, 2.1, 4.0, 2.1,
    4.0, 2.0, 4.2, 2.0, 3.9, 2.0, 4.1, 2.0, 4.0, 2.0,
    4.1, 2.0, 3.9, 2.0, 4.0, 2.0, 4.2, 2.0, 3.9, 2.0,
    3.8, 2.0, 4.0, 2.0, 3.8, 2.0, 3.9, 2.0, 3.7, 2.0,
    3.5, 1.9, 3.3, 1.9, 3.2, 1.9, 3.3, 1.9, 3.2, 1.9,
    3.0, 1.8, 3.1, 1.8, 3.0, 1.8, 3.1, 1.8, 3.0, 1.8,
    3.1, 1.8, 3.0, 1.8, 3.1, 1.8, 3.0, 1.8, 3.1, 1.8,
    3.0, 1.8, 4.5, 1.8, 3.0, 1.8, 3.1, 1.8, 3.0, 1.8,
    3.1, 1.8, 3.0, 1.8, 4.2, 1.8, 3.0, 1.8, 3.1, 1.8,
    3.0, 1.8, 3.1, 1.8, 3.0, 1.8, 3.1, 1.8, 3.0, 1.8,
    3.1, 5.5, 1.8, 3.0, 1.8, 3.1, 1.8, 3.0, 1.8, 3.1,
    1.8, 3.0, 1.8, 3.1, 1.8, 3.0, 1.8, 3.1, 1.8, 3.0,
    1.8, 3.1, 8.6, 1.8, 3.0, 1.8, 3.1, 1.8, 3.0, 1.8,
    3.0, 1.8, 3.1, 1.8, 3.0, 1.8, 3.1, 1.8, 3.0, 1.8,
    3.1, 1.8, 3.0, 1.8, 3.1, 1.8, 3.0, 1.8, 3.1, 2.0,
]

# ---------------- ulr ----------------
ulr_east = [
    5.0, 2.0, 11.8, 9.0, 2.2, 5.0, 2.0, 4.5, 2.0, 4.5,
    2.0, 4.5, 2.0, 4.3, 2.0, 4.5, 2.0, 4.3, 2.0, 4.0,
    2.0, 4.0, 2.0, 4.0, 2.0, 4.0, 2.0, 4.0, 2.0, 4.0,
    2.0, 4.0, 2.0, 4.0, 2.0, 4.0, 17.0, 2.0, 4.0, 2.0,
    4.0, 2.0, 4.0, 2.0, 4.0, 2.0, 4.0, 2.0, 4.0, 2.0,
    4.0, 2.0, 4.0, 2.0, 4.0, 2.0, 4.0, 2.0, 4.0, 2.0,
    4.0, 2.0, 4.0, 2.0, 4.0, 2.0, 4.0, 2.0, 4.0, 2.0,
    4.0, 7.7, 2.0, 4.0, 2.0, 4.0, 2.0, 4.0, 2.0, 4.0,
    2.2, 4.0, 2.2, 4.0, 2.2, 4.0, 2.2, 4.0, 2.2, 4.0,
    2.2, 4.0, 2.2, 4.0, 2.2, 4.0, 2.2, 4.0, 2.2, 4.0,
    2.2, 4.0, 2.2, 4.0, 2.2, 4.0, 2.2, 4.0, 2.2, 4.0,
    2.2, 4.0, 2.2, 4.0, 2.2, 4.0, 2.2, 4.0, 2.2, 4.0,
    2.2, 4.0, 2.2, 4.0, 2.2, 4.0, 2.2, 4.0, 2.2, 4.0,
    2.2, 4.0, 2.2, 4.0, 2.2, 4.0, 2.2, 4.0, 2.2, 4.0,
    2.2, 4.0, 2.2, 4.0, 2.2, 4.0, 2.2, 4.0, 2.2, 4.0,
    2.5, 4.5, 2.5, 4.5, 2.5, 4.5, 2.5, 4.5, 2.5, 4.5,
    2.5, 4.5, 2.5, 4.5, 2.5, 4.5, 2.5, 4.5, 2.5, 4.5,
    2.5, 4.5, 2.5, 4.5, 2.5, 4.5, 2.5, 4.5, 2.5, 4.5,
    2.5, 5.2, 2.5, 4.5, 2.5, 4.5, 2.5, 4.5, 2.5, 4.5,
]
ulr_north = [
    4.5, 1.0, 4.0, 0.9, 4.5, 1.0, 4.2, 1.0, 4.0, 1.1,
    4.0, 1.1, 4.2, 1.1, 4.0, 1.1, 10.2, 1.1, 4.0, 1.1,
    3.8, 1.2, 3.8, 1.2, 3.8, 1.2, 3.8, 1.2, 3.8, 1.2,
    3.8, 1.2, 3.8, 1.2, 3.8, 1.2, 3.8, 1.2, 3.8, 1.2,
    3.8, 1.2, 3.8, 1.2, 3.8, 1.2, 3.8, 1.2, 3.8, 1.2,
    3.0, 1.3, 3.0, 1.3, 3.0, 1.3, 3.0, 1.3, 3.0, 1.3,
    3.0, 1.3, 3.0, 1.3, 3.0, 1.3, 3.0, 1.3, 3.0, 1.3,
    3.0, 1.3, 3.0, 1.3, 3.0, 1.3, 3.0, 1.3, 3.0, 1.3,
    3.0, 1.3, 3.0, 1.3, 3.0, 1.3, 3.0, 1.3, 3.0, 1.3,
    3.0, 1.3, 3.0, 1.3, 3.0, 1.3, 3.0, 1.3, 3.0, 1.3,
    3.0, 1.3, 3.0, 1.3, 3.0, 1.3, 3.0, 1.3, 3.0, 1.3,
    3.0, 1.3, 3.0, 1.3, 3.0, 1.3, 3.0, 1.3, 3.0, 1.3,
    3.0, 1.3, 3.0, 1.3, 3.0, 1.3, 3.0, 1.3, 3.0, 1.3,
    3.0, 1.3, 3.0, 1.3, 3.0, 1.3, 3.0, 1.3, 3.0, 1.3,
    3.0, 1.3, 3.0, 1.3, 3.0, 1.3, 3.0, 1.3, 3.0, 1.3,
    3.0, 1.3, 3.0, 1.3, 3.0, 1.3, 3.0, 1.3, 3.0, 1.3,
    3.0, 1.3, 3.0, 1.3, 3.0, 1.3, 3.0, 1.3, 3.0, 1.3,
    3.0, 1.3, 3.0, 1.3, 3.0, 1.3, 3.0, 1.3, 3.0, 1.3,
    3.0, 1.3, 3.0, 1.3, 3.0, 1.3, 3.0, 1.3, 3.0, 1.3,
]
ulr_up = [
    9.2, 3.0, 8.0, 3.2, 15.7, 3.2, 10.5, 3.0, 9.5, 3.0,
    9.0, 3.0, 11.3, 3.0, 13.4, 3.2, 9.0, 3.2, 9.0, 3.0,
    8.0, 10.8, 3.0, 7.5, 3.1, 7.0, 3.0, 7.5, 3.0, 7.5,
    3.0, 8.8, 3.0, 7.0, 3.0, 7.5, 15.0, 3.0, 6.5, 3.0,
    6.5, 3.0, 7.0, 3.0, 6.5, 8.2, 3.0, 6.5, 3.0, 6.0,
    6.5, 3.0, 6.2, 3.0, 6.5, 3.0, 6.0, 3.0, 6.2, 3.0,
    6.5, 3.0, 6.0, 3.0, 6.5, 3.0, 6.2, 3.0, 9.4, 3.0,
    6.0, 3.0, 6.5, 3.0, 6.0, 3.0, 6.2, 3.0, 6.0, 3.0,
    5.5, 3.0, 6.5, 3.0, 6.0, 3.0, 5.8, 3.0, 5.5, 3.0,
    5.5, 2.9, 5.0, 2.8, 5.2, 2.8, 5.0, 2.8, 5.3, 2.8,
    5.5, 2.8, 5.8, 2.8, 6.0, 7.3, 2.8, 5.5, 2.8, 5.8,
    5.5, 2.8, 5.8, 2.8, 5.5, 2.8, 5.8, 2.7, 9.0, 2.7,
    6.0, 2.7, 5.5, 2.7, 6.0, 2.7, 5.5, 2.7, 6.0, 2.7,
    5.5, 2.7, 6.0, 2.7, 5.5, 6.8, 2.7, 5.5, 2.7, 5.5,
    5.5, 2.6, 5.8, 2.6, 5.5, 2.6, 5.2, 2.6, 5.5, 2.6,
    5.5, 2.6, 6.0, 2.6, 5.5, 2.6, 5.2, 2.6, 5.0, 2.6,
    5.5, 2.6, 5.0, 6.2, 2.6, 5.2, 2.6, 5.0, 2.6, 4.8,
    5.0, 2.6, 4.8, 2.6, 4.6, 2.6, 4.8, 2.6, 4.5, 2.6,
    4.8, 2.6, 4.5, 2.7, 4.6, 2.7, 4.5, 2.8, 4.4, 2.8,
]

SERIES = {
    'cod': (cod_east, cod_north, cod_up),
    'emr': (emr_east, emr_north, emr_up),
    'esa': (esa_east, esa_north, esa_up),
    'gfz': (gfz_east, gfz_north, gfz_up),
    'grg': (grg_east, grg_north, grg_up),
    'gtz': (gtz_east, gtz_north, gtz_up),
    'jpl': (jpl_east, jpl_north, jpl_up),
    'mit': (mit_east, mit_north, mit_up),
    'ulr': (ulr_east, ulr_north, ulr_up),
}

W, H = 1134, 579
fig = plt.figure(figsize=(W / 100, H / 100), dpi=100)

col_left = [61, 446, 831]
row_top = [19, 211, 404]
ax_w, ax_h = 309, 153.5

for i, center in enumerate(CENTERS):
    r, c = divmod(i, 3)
    ax = fig.add_axes([col_left[c] / W, 1 - (row_top[r] + ax_h) / H, ax_w / W, ax_h / H])
    for vals, comp, col in zip(SERIES[center], COMPONENTS, COLORS):
        v = np.asarray(vals, dtype=float)
        t = START[center] + STEP * np.arange(len(v))
        ax.plot(t, v, color=col, lw=1.15, zorder=3, solid_joinstyle='miter')
    ax.set_xlim(1994, 2014)
    ax.set_ylim(0, 20)
    ax.set_xticks(X_TICKS)
    ax.xaxis.set_minor_locator(MultipleLocator(1))
    ax.yaxis.set_major_locator(MultipleLocator(5))
    ax.yaxis.set_minor_locator(MultipleLocator(2.5))
    ax.yaxis.set_major_formatter(FuncFormatter(lambda v, p: f"{int(v)} mm"))
    ax.grid(True, which='major', color='#8c8c8c', lw=0.7, zorder=1)
    ax.set_axisbelow(True)
    ax.tick_params(which='both', direction='out', top=True, right=True,
                   labelsize=9, width=0.8, color='black')
    ax.tick_params(which='major', length=4, pad=3)
    ax.tick_params(which='minor', length=2.5)
    for s in ax.spines.values():
        s.set_linewidth(1.6)
        s.set_color('black')
    handles = [Line2D([], [], color=col, lw=1.2) for col in COLORS]
    labels = [f"{center} \u2013 {comp}" for comp in COMPONENTS]
    leg = ax.legend(handles, labels, loc='upper right', bbox_to_anchor=(0.974, 0.915),
                    frameon=False, fontsize=9, handlelength=1.2, handletextpad=0.9,
                    labelspacing=0.45, borderaxespad=0, borderpad=0)
    leg.set_zorder(2)

fig.savefig('out.png', dpi=100)
